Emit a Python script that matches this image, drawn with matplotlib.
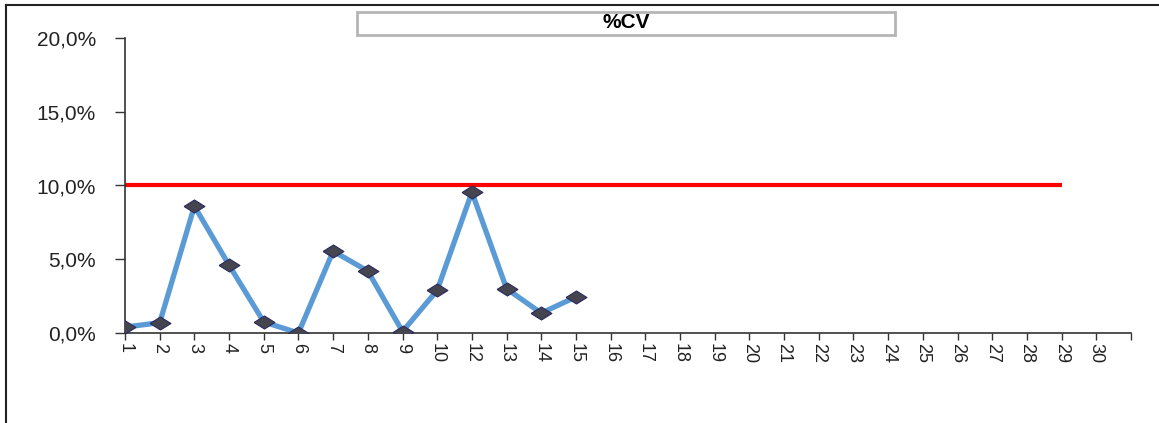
import numpy as np
import matplotlib
matplotlib.use("Agg")
import matplotlib.pyplot as plt
from matplotlib.patches import Rectangle
from matplotlib.lines import Line2D
from matplotlib.ticker import FuncFormatter

plt.rcParams['font.family'] = ['Liberation Sans', 'DejaVu Sans']

# categories (11 is absent in the source)
labels = [str(i) for i in range(1, 11)] + [str(i) for i in range(12, 31)]
cv = [0.4, 0.7, 8.6, 4.6, 0.75, 0.0, 5.55, 4.2, 0.1, 2.9, 9.55, 3.0, 1.35, 2.45]
limit = [10.0] * 28

fig = plt.figure(figsize=(11.59, 4.23), dpi=100)
ax = fig.add_axes([125 / 1159, 1 - 333 / 423, (1131 - 125) / 1159, (333 - 38) / 423])

# wide diamond, like the stretched excel marker
diamond = [(-1.6, 0), (0, 1), (1.6, 0), (0, -1), (-1.6, 0)]

x = np.arange(len(labels))
ax.plot(x[:len(limit)], limit, color='#ff0000', lw=3, solid_capstyle='butt', zorder=2)
ax.plot(x[:len(cv)], cv, color='#5b9bd5', lw=3.8, zorder=3)
ax.plot(x[:len(cv)], cv, ls='none', marker=diamond, ms=15, mfc='#45454f', mec='#2a2a60', mew=0.8, zorder=4)

ax.set_xlim(0, len(labels))
ax.set_ylim(0, 20)
ax.set_xticks(np.arange(len(labels) + 1))
ax.set_xticklabels(labels + [''], rotation=-90, fontsize=13, color='#222222')
ax.set_yticks([0, 5, 10, 15, 20])
ax.yaxis.set_major_formatter(FuncFormatter(lambda v, p: '{:.1f}%'.format(v).replace('.', ',')))
ax.tick_params(axis='y', labelsize=15, length=7, width=1, color='#333333', pad=14, labelcolor='#222222')
ax.tick_params(axis='x', length=5, width=1, color='#333333', pad=2)
for s in ['top', 'right']:
    ax.spines[s].set_visible(False)
for s in ['left', 'bottom']:
    ax.spines[s].set_color('#333333')
    ax.spines[s].set_linewidth(1.2)

# title box
fig.patches.append(Rectangle((357 / 1159, 1 - 35 / 423), (895 - 357) / 1159, 23 / 423,
                             transform=fig.transFigure, fill=False, ec='#b5b5b5', lw=2))
fig.text(626 / 1159, 1 - 23 / 423, '%CV', ha='center', va='center', fontsize=15, fontweight='bold')

# chart area border (top and left)
fig.lines.append(Line2D([6 / 1159, 1], [1 - 5 / 423, 1 - 5 / 423], transform=fig.transFigure, color='#222222', lw=1.5))
fig.lines.append(Line2D([6 / 1159, 6 / 1159], [0, 1 - 5 / 423], transform=fig.transFigure, color='#222222', lw=1.5))

fig.savefig('out.png', dpi=100)
